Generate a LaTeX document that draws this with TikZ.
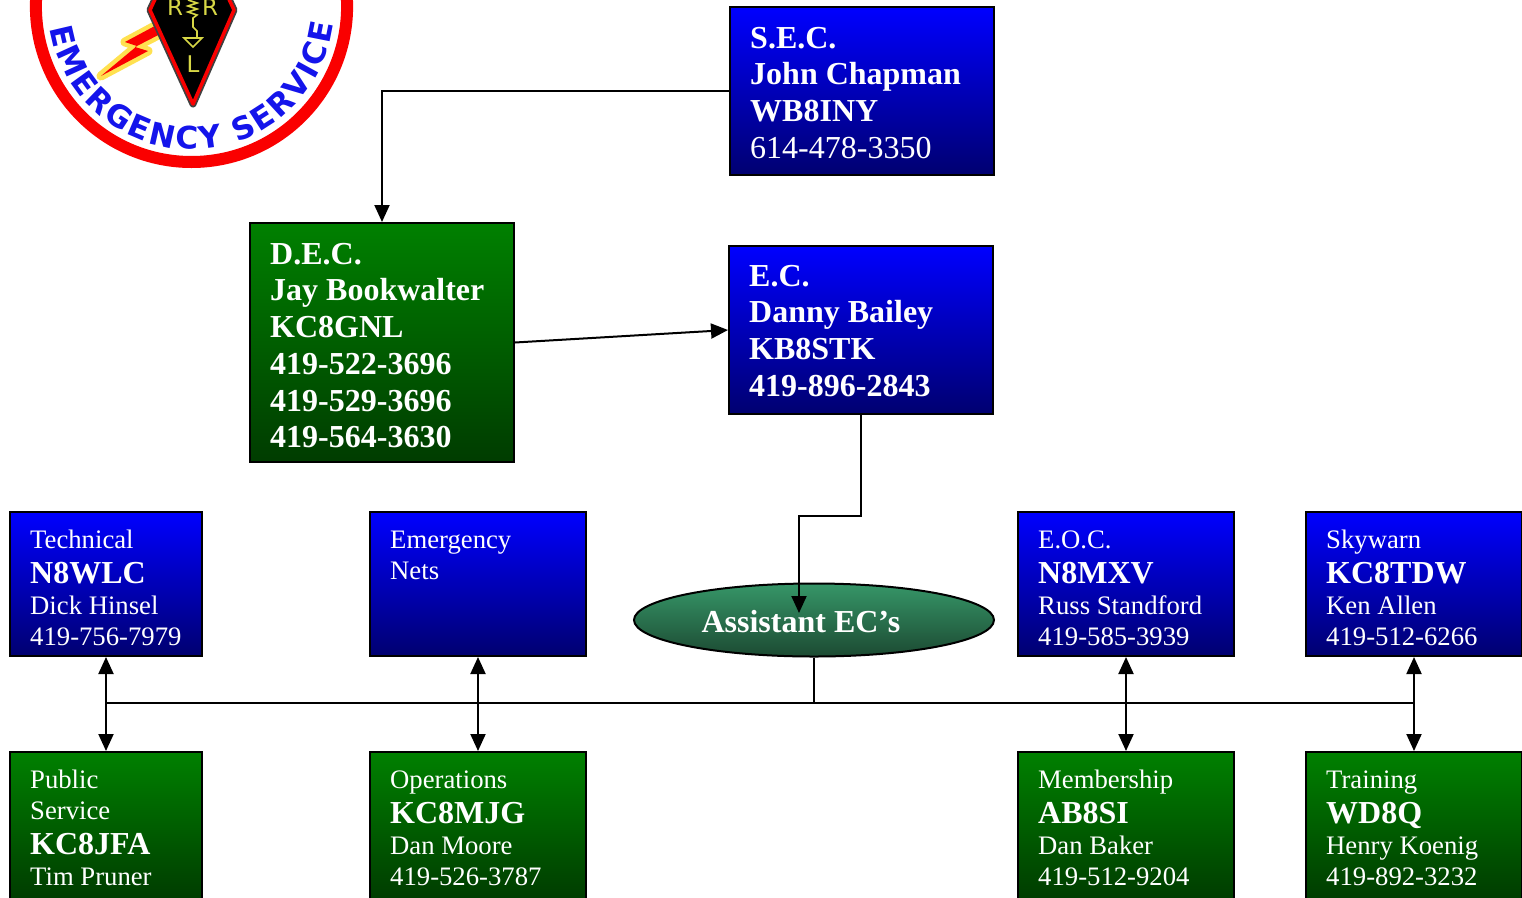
\documentclass[tikz,border=0pt]{standalone}
\usepackage{fontspec}
\setmainfont{Liberation Serif}
\newfontfamily\logofont{DejaVu Sans}
\usetikzlibrary{arrows.meta,shapes.geometric,decorations.text}
\definecolor{boxblue}{RGB}{0,0,255}
\definecolor{boxnavy}{RGB}{0,0,112}
\definecolor{boxgreen}{RGB}{0,128,0}
\definecolor{boxdkgreen}{RGB}{0,60,0}
\definecolor{ellgreen}{RGB}{54,150,104}
\definecolor{elldark}{RGB}{28,74,50}
\definecolor{logored}{RGB}{250,0,0}
\definecolor{logoblue}{RGB}{20,20,235}
\definecolor{logoyellow}{RGB}{215,215,70}
\definecolor{boltyellow}{RGB}{255,225,80}
\newcommand{\callsign}[1]{{\fontsize{32pt}{31pt}\selectfont\bfseries #1}}
\begin{document}
\begin{tikzpicture}[x=1pt,y=1pt,
  orgbox/.style={draw=black, line width=2pt, rectangle, inner sep=0pt},
  bluebox/.style={orgbox, top color=boxblue, bottom color=boxnavy},
  greenbox/.style={orgbox, top color=boxgreen, bottom color=boxdkgreen},
  toptxt/.style={anchor=north west, inner sep=0pt, align=left, text=white,
    font=\fontsize{32pt}{36.7pt}\selectfont\bfseries},
  lowtxt/.style={anchor=north west, inner sep=0pt, align=left, text=white,
    font=\fontsize{26.7pt}{31pt}\selectfont},
  conn/.style={line width=2pt, draw=black},
  arr/.style={conn, -{Triangle[length=17pt,width=15pt]}},
  darr/.style={conn, {Triangle[length=17pt,width=15pt]}-{Triangle[length=17pt,width=15pt]}},
  logoletter/.style={text=logoyellow, inner sep=0pt, font=\logofont\fontsize{23pt}{23pt}\selectfont},
]
\useasboundingbox (0,0) rectangle (1522,-897);
\clip (0,0) rectangle (1522,-897);

% ---------- logo ----------
\fill[white] (191.5,-6.4) circle (150);
\draw[logored, line width=12pt] (191.5,-6.4) circle (155.6);
\path[decorate, decoration={text along path,
   text={|\logofont\bfseries\fontsize{31pt}{31pt}\selectfont|EMERGENCY SERVICE},
   text color=logoblue, text align={fit to path}}]
   (191.5,-6.4) ++(189:143) arc[start angle=189, end angle=353, radius=143];
% lightning bolt
\filldraw[fill=logored, draw=boltyellow, line width=9pt, line join=round]
  (166,-20) -- (125,-42) -- (137,-46) -- (101,-76) -- (148,-51) -- (135,-47) -- (168,-30) -- cycle;
\fill[logored] (166,-20) -- (125,-42) -- (137,-46) -- (101,-76) -- (148,-51) -- (135,-47) -- (168,-30) -- cycle;
% pennant
\draw[black!75, line width=7pt, line join=round] (150,-10) -- (193,-104) -- (234,-10) -- (192,80) -- cycle;
\filldraw[fill=black, draw=logored, line width=3.5pt, line join=round] (150,-10) -- (193,-104) -- (234,-10) -- (192,80) -- cycle;
\node[logoletter] (lr1) at (175,-7) {R};
\node[logoletter] (lr2) at (210,-7) {R};
\node[logoletter] (ll) at (193,-64) {L};
\draw[logoyellow, line width=1.6pt] (188,0) -- (197,-3) -- (188,-6) -- (197,-9) -- (188,-12) -- (197,-15) -- (193,-18)
  -- (193,-27) -- (197,-31) -- (197,-37);
\draw[logoyellow, line width=1.6pt] (184,-38) -- (202,-38) -- (193,-47) -- cycle;

% ---------- boxes ----------
\node[bluebox, minimum width=264pt, minimum height=168pt] (sec) at (862,-91) {};
\node[greenbox, minimum width=264pt, minimum height=239pt] (dec) at (382,-342.5) {};
\node[bluebox, minimum width=264pt, minimum height=168pt] (ec) at (861,-330) {};

\node[bluebox, minimum width=192pt, minimum height=144pt] (tech) at (106,-584) {};
\node[bluebox, minimum width=216pt, minimum height=144pt] (nets) at (478,-584) {};
\node[bluebox, minimum width=216pt, minimum height=144pt] (eoc) at (1126,-584) {};
\node[bluebox, minimum width=216pt, minimum height=144pt] (sky) at (1414,-584) {};

\node[greenbox, minimum width=192pt, minimum height=148pt] (pub) at (106,-826) {};
\node[greenbox, minimum width=216pt, minimum height=148pt] (ops) at (478,-826) {};
\node[greenbox, minimum width=216pt, minimum height=148pt] (mem) at (1126,-826) {};
\node[greenbox, minimum width=216pt, minimum height=148pt] (trn) at (1414,-826) {};

\node[ellipse, draw=black, line width=2pt, top color=ellgreen, bottom color=elldark,
      minimum width=360pt, minimum height=73pt, inner sep=0pt] (aec) at (814,-620) {};

% ---------- texts ----------
\node[toptxt] (sect) at ([shift={(21,-18)}]sec.north west)
  {\rule{0pt}{24pt}S.E.C.\\John Chapman\\WB8INY\\{\mdseries 614-478-3350}};
\node[toptxt] (dect) at ([shift={(21,-18)}]dec.north west)
  {\rule{0pt}{24pt}D.E.C.\\Jay Bookwalter\\KC8GNL\\419-522-3696\\419-529-3696\\419-564-3630};
\node[toptxt] (ect) at ([shift={(21,-17)}]ec.north west)
  {\rule{0pt}{24pt}E.C.\\Danny Bailey\\KB8STK\\419-896-2843};

\node[lowtxt] (techt) at ([shift={(21,-17)}]tech.north west)
  {\rule{0pt}{20pt}Technical\\[4pt]\callsign{N8WLC}\\Dick Hinsel\\419-756-7979};
\node[lowtxt] (netst) at ([shift={(21,-17)}]nets.north west)
  {\rule{0pt}{20pt}Emergency\\Nets};
\node[lowtxt] (eoct) at ([shift={(21,-17)}]eoc.north west)
  {\rule{0pt}{20pt}E.O.C.\\[4pt]\callsign{N8MXV}\\Russ Standford\\419-585-3939};
\node[lowtxt] (skyt) at ([shift={(21,-17)}]sky.north west)
  {\rule{0pt}{20pt}Skywarn\\[4pt]\callsign{KC8TDW}\\Ken Allen\\419-512-6266};

\node[lowtxt] (pubt) at ([shift={(21,-17)}]pub.north west)
  {\rule{0pt}{20pt}Public\\Service\\[4pt]\callsign{KC8JFA}\\Tim Pruner};
\node[lowtxt] (opst) at ([shift={(21,-17)}]ops.north west)
  {\rule{0pt}{20pt}Operations\\[4pt]\callsign{KC8MJG}\\Dan Moore\\419-526-3787};
\node[lowtxt] (memt) at ([shift={(21,-17)}]mem.north west)
  {\rule{0pt}{20pt}Membership\\[4pt]\callsign{AB8SI}\\Dan Baker\\419-512-9204};
\node[lowtxt] (trnt) at ([shift={(21,-17)}]trn.north west)
  {\rule{0pt}{20pt}Training\\[4pt]\callsign{WD8Q}\\Henry Koenig\\419-892-3232};

\node[anchor=base, inner sep=0pt, text=white, font=\fontsize{32pt}{32pt}\selectfont\bfseries]
  (aect) at (801,-632) {Assistant EC’s};

% ---------- connectors ----------
\draw[arr] (sec.west) -| (dec.north);
\draw[arr] (dec.east) -- (ec.west);
\coordinate (aecin) at (799,-613);
\draw[arr] (ec.south) -- ++(0,-101) -| (aecin);
\coordinate (bus) at (814,-703);
\draw[line width=2.5pt] (aec.south) -- (bus);
\draw[line width=2.5pt] (tech.south |- bus) -- (sky.south |- bus);
\draw[darr] (tech.south) -- (pub.north);
\draw[darr] (nets.south) -- (ops.north);
\draw[darr] (eoc.south) -- (mem.north);
\draw[darr] (sky.south) -- (trn.north);
\end{tikzpicture}
\end{document}
